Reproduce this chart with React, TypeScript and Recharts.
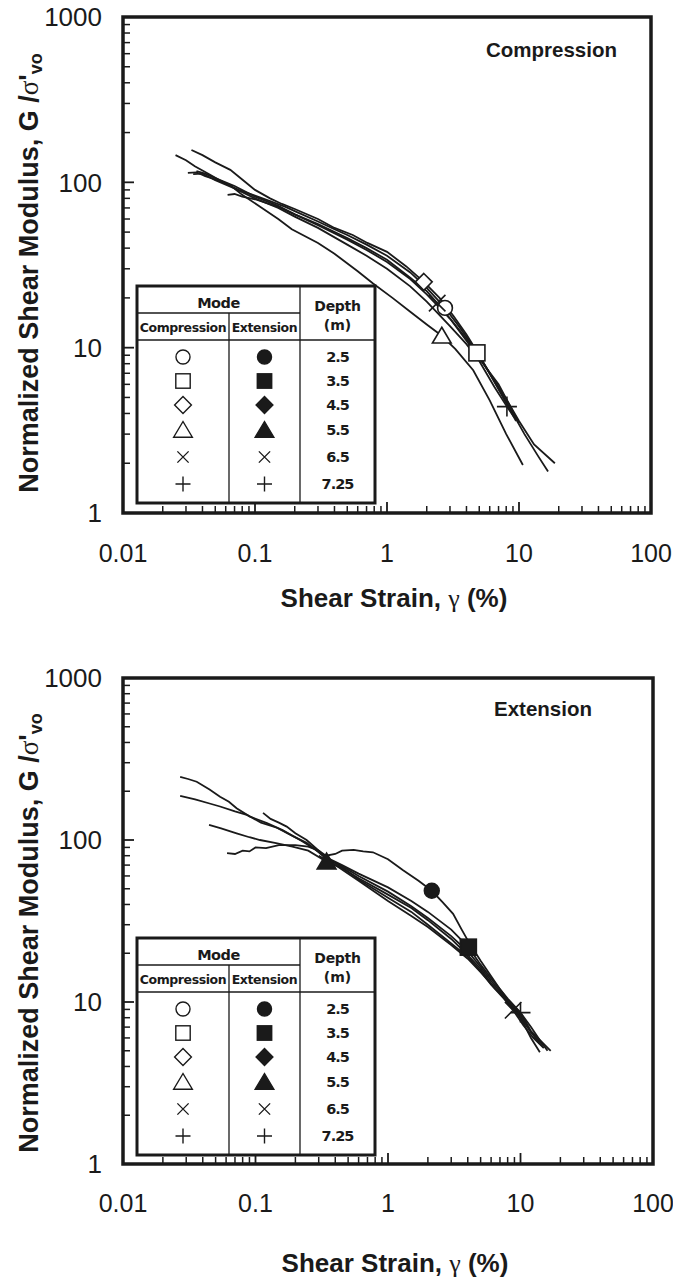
import React from "react";
import { ComposedChart, Line, Scatter, XAxis, YAxis, ReferenceArea } from "recharts";

// shear strain (%) vs normalized shear modulus G/σ'vo
const DEPTHS = ["2.5", "3.5", "4.5", "5.5", "6.5", "7.25"];
const SHAPES = ["circle", "square", "diamond", "triangle", "cross", "plus"];

const X_TICKS = [0.01, 0.1, 1, 10, 100];
const Y_TICKS = [1, 10, 100, 1000];

// compression tests
const COMP_25 = [[0.031,114],[0.036,115],[0.042,109],[0.05,104],[0.06,98],[0.075,90],[0.1,83],[0.13,77],[0.17,71],[0.2,67],[0.3,58],[0.4,52],[0.5,48],[0.7,42],[1,36],[1.5,28.5],[2,23],[2.75,17.4],[3.5,13.5],[4.5,10.2],[6,7],[8,4.9],[10,3.6],[13,2.6],[18.7,2.0]];
const COMP_35 = [[0.036,117],[0.042,113],[0.05,106],[0.07,95],[0.1,82],[0.15,72],[0.2,64],[0.3,55],[0.5,45],[0.7,39],[1,33],[1.5,26],[2,21],[3,15],[4,11.3],[4.8,9.3],[6,7],[8,4.7],[11,3.0],[14,2.2],[16.6,1.78]];
const COMP_45 = [[0.033,157],[0.04,146],[0.05,132],[0.065,119],[0.08,104],[0.1,90],[0.13,80],[0.16,74],[0.2,69],[0.3,60],[0.4,53],[0.55,48],[0.71,43],[1,38],[1.4,31],[1.9,25],[2.5,20],[3.2,15.5],[4,12],[5,9],[7,5.6],[9.5,3.6]];
const COMP_55 = [[0.025,146],[0.03,136],[0.035,125],[0.045,112],[0.054,103],[0.065,96],[0.08,84],[0.11,71],[0.15,60],[0.19,52],[0.3,43],[0.4,37],[0.6,29],[0.78,24.5],[1.1,20],[1.5,16.5],[2,13.8],[2.6,11.8],[3.3,9.8],[4.5,7.3],[6,4.8],[8,3],[10.7,1.95]];
const COMP_65 = [[0.062,84],[0.07,85],[0.08,82],[0.1,79],[0.15,71],[0.2,64],[0.3,56],[0.5,46],[0.7,40],[1,34],[1.5,26.5],[2,22],[2.4,18.6],[3,15],[4,11],[5,8.6],[7,6],[10,3.5]];
const COMP_725 = [[0.034,112],[0.04,113],[0.05,103],[0.07,92],[0.1,80],[0.15,70],[0.2,62],[0.3,53],[0.5,42],[0.7,36],[1,30],[1.5,23.5],[2,19],[3,13.5],[4,10.5],[5,8.3],[6.5,5.8],[8.1,4.4],[9.2,3.8]];
const COMP_MARKS = [[2.75,17.4],[4.8,9.3],[1.9,25],[2.6,11.8],[2.4,18.6],[8.1,4.4]];

// extension tests
const EXT_25 = [[0.061,83],[0.07,82],[0.08,86],[0.09,85],[0.1,90],[0.12,89],[0.15,93],[0.2,93],[0.25,91],[0.3,86],[0.34,80],[0.4,82],[0.45,86],[0.55,87],[0.65,85],[0.77,84],[1,76],[1.3,65],[1.7,56],[2.14,48.6],[2.6,41],[3.1,35],[3.6,28],[4,24],[5,18],[7,12],[10,8],[14,5.5]];
const EXT_35 = [[0.027,245],[0.031,238],[0.036,229],[0.045,205],[0.054,185],[0.063,172],[0.072,157],[0.09,140],[0.122,127],[0.16,115],[0.217,100],[0.28,88],[0.344,78],[0.45,70],[0.6,62],[1,51],[1.5,42],[2,36],[3,28],[4.04,21.8],[5,17],[6,14],[8,10.5],[10,8.6],[12,6.6],[16.9,5.0]];
const EXT_45 = [[0.027,187],[0.035,178],[0.045,168],[0.054,161],[0.07,150],[0.086,143],[0.11,128],[0.145,119],[0.19,106],[0.243,96],[0.3,84],[0.344,76],[0.45,69],[0.6,60],[1,48],[1.5,39],[2,33],[3,25.5],[4,20.5],[5,16.5],[6,13.5],[8,10.2],[10,8.3],[12,6.5],[14.8,5.4]];
const EXT_55 = [[0.0446,124],[0.055,118],[0.072,110],[0.09,104],[0.108,100],[0.14,96],[0.19,91],[0.25,86],[0.344,73.5],[0.45,67],[0.6,58],[1,46],[1.5,38],[2,32],[3,24.5],[4,19.5],[5,16],[6,13],[8,10],[10,8],[12,6],[14,4.9]];
const EXT_65 = [[0.114,147],[0.13,135],[0.15,128],[0.172,121],[0.2,110],[0.243,100],[0.29,88],[0.34,78],[0.45,68],[0.6,57],[1,44],[1.5,36],[2,30],[3,23],[4,19],[5,15.5],[6,12.8],[7.5,10.5],[8.8,8.9],[10.5,7.2],[12.5,6],[15,5.2]];
const EXT_725 = [[0.3,80],[0.4,70],[0.6,56],[1,42],[1.5,34],[2,29],[3,22.5],[4,18.5],[5,15.3],[6.5,12],[8.5,9.7],[10,8.6],[12,7],[14,5.8],[16,5]];
const EXT_MARKS = [[2.14,48.6],[4.04,21.8],null,[0.344,73.5],[8.8,8.9],[10,8.6]];

const X_MINOR: number[] = [];
const Y_MINOR: number[] = [];
for (const d of [0.01, 0.1, 1, 10]) for (let k = 2; k <= 9; k++) X_MINOR.push(+(d * k).toPrecision(3));
for (const d of [1, 10, 100]) for (let k = 2; k <= 9; k++) Y_MINOR.push(+(d * k).toPrecision(3));

const INK = "#1a1a1a";
const SANS = "'Liberation Sans', Arial, sans-serif";
const LEG = "'DejaVu Sans', Verdana, sans-serif";

const toPts = (arr: number[][]) => arr.map(([x, y]) => ({ x, y }));
const NoLabel = () => <g />;

const MarkShape = ({ cx, cy, kind, filled, r = 8, sw = 1.6 }: any) => {
  const fill = filled ? INK : "#fff";
  switch (kind) {
    case "circle":
      return <circle cx={cx} cy={cy} r={r * 0.95} fill={fill} stroke={INK} strokeWidth={sw} />;
    case "square":
      return <rect x={cx - r} y={cy - r} width={2 * r} height={2 * r} fill={fill} stroke={INK} strokeWidth={sw} />;
    case "diamond":
      return <polygon points={`${cx},${cy - r * 1.05} ${cx + r * 1.05},${cy} ${cx},${cy + r * 1.05} ${cx - r * 1.05},${cy}`} fill={fill} stroke={INK} strokeWidth={sw} />;
    case "triangle":
      return <polygon points={`${cx},${cy - r} ${cx + r * 1.1},${cy + r * 0.85} ${cx - r * 1.1},${cy + r * 0.85}`} fill={fill} stroke={INK} strokeWidth={sw} strokeLinejoin="miter" />;
    case "cross":
      return <path d={`M${cx - r * 0.75},${cy - r * 0.75}L${cx + r * 0.75},${cy + r * 0.75}M${cx - r * 0.75},${cy + r * 0.75}L${cx + r * 0.75},${cy - r * 0.75}`} stroke={INK} strokeWidth={sw} fill="none" />;
    default:
      return <path d={`M${cx - r},${cy}L${cx + r},${cy}M${cx},${cy - r}L${cx},${cy + r}`} stroke={INK} strokeWidth={sw} fill="none" />;
  }
};

const PLOT_SIZE: Record<string, number> = { circle: 7.8, square: 8, diamond: 8, triangle: 8.5, cross: 11, plus: 10 };
const LEG_SIZE: Record<string, number> = { circle: 7.4, square: 7.2, diamond: 8, triangle: 8.5, cross: 7.5, plus: 7.5 };

const XTitle = ({ viewBox, dy }: any) => (
  <text x={viewBox.x + viewBox.width / 2 + 7} y={viewBox.y + dy} textAnchor="middle" fontFamily={SANS} fontWeight="bold" fontSize={26} fill={INK}>
    Shear Strain, <tspan fontFamily="'Liberation Serif', serif" fontWeight="normal">γ</tspan> (%)
  </text>
);

const YTitle = ({ viewBox, dy }: any) => {
  const cx = 29;
  const cy = viewBox.y + viewBox.height / 2 + dy;
  return (
    <text x={cx} y={cy} transform={`rotate(-90 ${cx} ${cy})`} textAnchor="middle" dominantBaseline="central" fontFamily={SANS} fontWeight="bold" fontSize={27} fill={INK}>
      Normalized Shear Modulus, G /<tspan fontFamily="'Liberation Serif', serif" fontWeight="normal">σ</tspan>'<tspan fontSize={18} dy={7}>vo</tspan>
    </text>
  );
};

function LegendTable({ top }: { top: number }) {
  const L = 137, R = 375, C1 = 229, C2 = 300, H = 217;
  const rows = [71, 95, 119, 144, 171, 198];
  const thin = { stroke: INK, strokeWidth: 1.3 };
  return (
    <g>
      <rect x={L} y={top} width={R - L} height={H} fill="#fff" stroke={INK} strokeWidth={3} />
      <line x1={C2} y1={top} x2={C2} y2={top + H} {...thin} />
      <line x1={C1} y1={top + 27} x2={C1} y2={top + H} {...thin} />
      <line x1={L} y1={top + 27} x2={C2} y2={top + 27} {...thin} />
      <line x1={L} y1={top + 54} x2={R} y2={top + 54} {...thin} />
      <g fontFamily={LEG} fontWeight="bold" fill={INK} textAnchor="middle" dominantBaseline="central">
        <text x={(L + C2) / 2} y={top + 17} fontSize={14.5} letterSpacing={-0.5}>Mode</text>
        <text x={(C2 + R) / 2} y={top + 20} fontSize={14} letterSpacing={-0.3}>Depth</text>
        <text x={(C2 + R) / 2} y={top + 39} fontSize={14}>(m)</text>
        <text x={(L + C1) / 2} y={top + 41} fontSize={12.5} letterSpacing={-0.4}>Compression</text>
        <text x={(C1 + C2) / 2} y={top + 41} fontSize={12.5} letterSpacing={-0.4}>Extension</text>
        {DEPTHS.map((d, i) => (
          <text key={d} x={(C2 + R) / 2} y={top + rows[i]} fontSize={14.5} letterSpacing={-1}>{d}</text>
        ))}
      </g>
      {SHAPES.map((s, i) => (
        <g key={s}>
          <MarkShape cx={(L + C1) / 2} cy={top + rows[i]} kind={s} filled={false} r={LEG_SIZE[s]} sw={1.4} />
          <MarkShape cx={(C1 + C2) / 2} cy={top + rows[i]} kind={s} filled r={LEG_SIZE[s]} sw={1.4} />
        </g>
      ))}
    </g>
  );
}

function Panel({ curves, marks, filled, height, margin, xLabelH, xTitleDy, yTitleDy, tickMargin, title, titleX, titleY, legendTop }: any) {
  const width = 673;
  const common = { type: "number" as const, scale: "log" as const, allowDataOverflow: true, interval: 0 as const };
  return (
    <div style={{ position: "relative", width, height }}>
      <ComposedChart width={width} height={height} margin={margin}>
        <XAxis xAxisId="x" dataKey="x" {...common} domain={[0.01, 100]} ticks={X_TICKS} mirror height={1} tick={NoLabel} tickSize={11} tickLine={{ stroke: INK, strokeWidth: 1.8 }} axisLine={false} />
        <XAxis xAxisId="xm" dataKey="x" {...common} domain={[0.01, 100]} ticks={X_MINOR} mirror height={1} tick={NoLabel} tickSize={6} tickLine={{ stroke: INK, strokeWidth: 1.5 }} axisLine={false} />
        <XAxis xAxisId="xl" dataKey="x" {...common} domain={[0.01, 100]} ticks={X_TICKS} height={xLabelH} tickLine={false} axisLine={false} tickSize={0} tickMargin={tickMargin}
          tick={{ fontSize: 25, fill: INK, fontFamily: SANS }} label={<XTitle dy={xTitleDy} />} />
        <YAxis yAxisId="y" dataKey="y" {...common} domain={[1, 1000]} ticks={Y_TICKS} mirror width={1} tick={NoLabel} tickSize={11} tickLine={{ stroke: INK, strokeWidth: 1.8 }} axisLine={false} />
        <YAxis yAxisId="ym" dataKey="y" {...common} domain={[1, 1000]} ticks={Y_MINOR} mirror width={1} tick={NoLabel} tickSize={6} tickLine={{ stroke: INK, strokeWidth: 1.5 }} axisLine={false} />
        <YAxis yAxisId="yl" dataKey="y" {...common} domain={[1, 1000]} ticks={Y_TICKS} width={100} tickLine={false} axisLine={false} tickSize={0} tickMargin={21}
          tick={{ fontSize: 26, fill: INK, fontFamily: SANS }} label={<YTitle dy={yTitleDy} />} />
        <ReferenceArea xAxisId="x" yAxisId="y" x1={0.01} x2={100} y1={1} y2={1000} fill="none" stroke={INK} strokeWidth={3.5} ifOverflow="visible" />
        {curves.map((c: number[][], i: number) => (
          <Line key={`c${i}`} xAxisId="x" yAxisId="y" data={toPts(c)} dataKey="y" type="linear" stroke={INK} strokeWidth={1.8}
            dot={false} activeDot={false} isAnimationActive={false} />
        ))}
        {marks.map((m: number[] | null, i: number) =>
          m ? (
            <Scatter key={`m${i}`} xAxisId="x" yAxisId="y" data={[{ x: m[0], y: m[1] }]} isAnimationActive={false}
              shape={(p: any) => <MarkShape cx={p.cx} cy={p.cy} kind={SHAPES[i]} filled={filled} r={PLOT_SIZE[SHAPES[i]]} />} />
          ) : null
        )}
      </ComposedChart>
      <svg width={width} height={height} style={{ position: "absolute", left: 0, top: 0, pointerEvents: "none" }}>
        <text x={titleX} y={titleY} fontFamily={SANS} fontWeight="bold" fontSize={20.5} fill={INK}>{title}</text>
        <LegendTable top={legendTop} />
      </svg>
    </div>
  );
}

export default function App() {
  return (
    <div style={{ position: "absolute", left: 0, top: 0, width: 673, height: 1286, background: "#fff" }}>
      <Panel
        curves={[COMP_25, COMP_35, COMP_45, COMP_55, COMP_65, COMP_725]}
        marks={COMP_MARKS}
        filled={false}
        height={640}
        margin={{ top: 17, right: 22, bottom: 27, left: 23 }}
        xLabelH={100}
        tickMargin={31}
        xTitleDy={94}
        yTitleDy={8}
        title="Compression"
        titleX={486}
        titleY={57}
        legendTop={286}
      />
      <Panel
        curves={[EXT_25, EXT_35, EXT_45, EXT_55, EXT_65, EXT_725]}
        marks={EXT_MARKS}
        filled
        height={646}
        margin={{ top: 38, right: 20, bottom: 12, left: 23 }}
        xLabelH={110}
        tickMargin={30}
        xTitleDy={108}
        yTitleDy={12}
        title="Extension"
        titleX={494}
        titleY={76}
        legendTop={298}
      />
    </div>
  );
}
